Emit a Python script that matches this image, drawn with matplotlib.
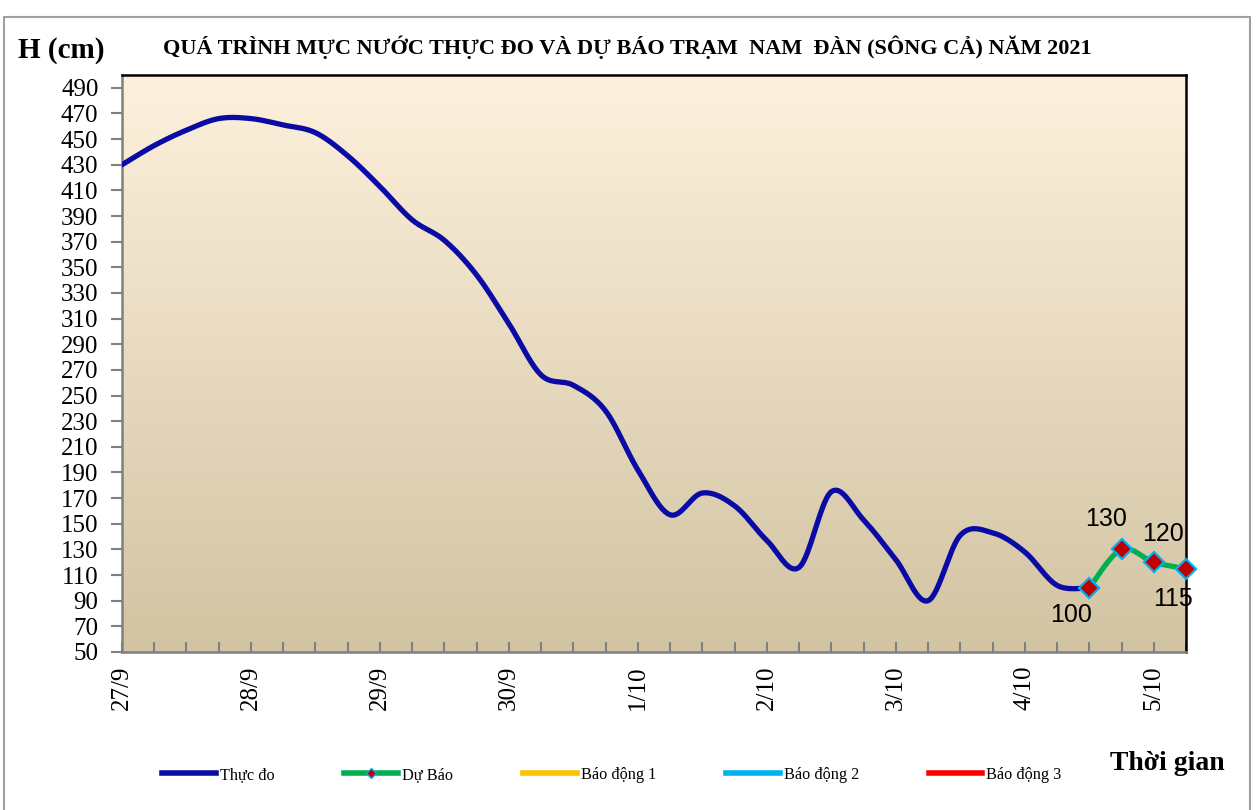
import numpy as np
import matplotlib
matplotlib.use('Agg')
import matplotlib.pyplot as plt
from matplotlib.lines import Line2D
from matplotlib.patches import Rectangle

# Du lieu (moi buoc 6 gio, bat dau 27/9 00h)
thuc_do = [430, 445, 457, 466, 466, 461, 455, 437, 413, 387, 371, 344,
           306, 266, 258, 238, 192, 157, 174, 164, 137, 116, 175, 153,
           122, 90, 141, 143, 128, 102, 100]
du_bao = [100, 130, 120, 115]
du_bao_start = 30
ngay_labels = ['27/9', '28/9', '29/9', '30/9', '1/10', '2/10', '3/10', '4/10', '5/10']
y_ticks = list(range(50, 491, 20))


def smooth(x, y, n=20):
    # courbe lissee type Excel (Catmull-Rom -> Bezier)
    x = np.asarray(x, float)
    y = np.asarray(y, float)
    px = np.concatenate([[x[0]], x, [x[-1]]])
    py = np.concatenate([[y[0]], y, [y[-1]]])
    xs, ys = [], []
    t = np.linspace(0, 1, n)
    for i in range(1, len(px) - 2):
        p0 = np.array([px[i], py[i]])
        p3 = np.array([px[i + 1], py[i + 1]])
        c1 = p0 + (np.array([px[i + 1], py[i + 1]]) - np.array([px[i - 1], py[i - 1]])) / 6
        c2 = p3 - (np.array([px[i + 2], py[i + 2]]) - np.array([px[i], py[i]])) / 6
        b = ((1 - t) ** 3)[:, None] * p0 + (3 * (1 - t) ** 2 * t)[:, None] * c1 \
            + (3 * (1 - t) * t ** 2)[:, None] * c2 + (t ** 3)[:, None] * p3
        xs.extend(b[:, 0])
        ys.extend(b[:, 1])
    return np.array(xs), np.array(ys)


serif = 'Liberation Serif'
sans = 'Liberation Sans'

fig = plt.figure(figsize=(12.56, 8.10), dpi=100)
ax = fig.add_axes([122 / 1256, 1 - 652 / 810, (1186 - 122) / 1256, (652 - 75) / 810])

# fond degrade
c_top = np.array([253, 241, 221]) / 255
c_bot = np.array([210, 195, 162]) / 255
g = np.linspace(0, 1, 256)[:, None]
grad = c_top * (1 - g[..., None]) + c_bot * g[..., None]
ax.imshow(grad, extent=[0, 1, 0, 1], transform=ax.transAxes, aspect='auto', zorder=0)

x_obs = np.arange(len(thuc_do))
sx, sy = smooth(x_obs, thuc_do)
ax.plot(sx, sy, color='#0A0AA5', lw=3.8, solid_capstyle='round', zorder=3)

x_fc = np.arange(du_bao_start, du_bao_start + len(du_bao))
fx, fy = smooth(x_fc, du_bao)
ax.plot(fx, fy, color='#00B050', lw=3.8, zorder=4)
ax.plot(x_fc, du_bao, ls='none', marker='D', ms=10, mfc='#C00000', mec='#00B0F0',
        mew=1.6, zorder=5, clip_on=False)

offsets = [(-18, -27), (-15, 30), (9, 28), (-13, -30)]
for xi, yi, off in zip(x_fc, du_bao, offsets):
    ax.annotate(str(yi), (xi, yi), xytext=(off[0] * 0.72, off[1] * 0.72),
                textcoords='offset points', ha='center', va='center',
                fontsize=18, family=sans, zorder=6, annotation_clip=False)

ax.set_xlim(0, 33)
ax.set_ylim(50, 500)
ax.set_yticks(y_ticks)
ax.set_yticklabels([str(v) for v in y_ticks], family=serif, fontsize=18)
ax.set_xticks(np.arange(0, 33, 4))
ax.set_xticklabels(ngay_labels, rotation=90, family=serif, fontsize=18)
ax.set_xticks(np.arange(0, 34, 1), minor=True)
ax.tick_params(axis='y', direction='out', length=8, width=1.5, color='#808080', pad=9)
ax.tick_params(axis='x', which='both', direction='in', length=7, width=1.5, color='#808080', pad=10)

for s in ['top', 'right']:
    ax.spines[s].set_color('black')
    ax.spines[s].set_linewidth(1.8)
for s in ['left', 'bottom']:
    ax.spines[s].set_color('#808080')
    ax.spines[s].set_linewidth(1.8)

fig.text(627 / 1256, 1 - 47 / 810,
         'QUÁ TRÌNH MỰC NƯỚC THỰC ĐO VÀ DỰ BÁO TRẠM  NAM  ĐÀN (SÔNG CẢ) NĂM 2021',
         ha='center', va='center', family=serif, fontsize=16, fontweight='bold')
fig.text(18 / 1256, 1 - 50 / 810, 'H (cm)', ha='left', va='center',
         family=serif, fontsize=21, fontweight='bold')
fig.text(1225 / 1256, 1 - 763 / 810, 'Thời gian', ha='right', va='center',
         family=serif, fontsize=20, fontweight='bold')

handles = [
    Line2D([], [], color='#0A0AA5', lw=4),
    Line2D([], [], color='#00B050', lw=4, marker='D', ms=5, mfc='#C00000', mec='#00B0F0'),
    Line2D([], [], color='#FFC000', lw=4),
    Line2D([], [], color='#00B0F0', lw=4),
    Line2D([], [], color='#FF0000', lw=4),
]
labels = ['Thực đo', 'Dự Báo', 'Báo động 1', 'Báo động 2', 'Báo động 3']
fig.legend(handles, labels, loc='center', bbox_to_anchor=(612 / 1256, 1 - 775 / 810),
           ncol=5, frameon=False, prop={'family': serif, 'size': 11.7},
           handlelength=3.3, handletextpad=0.25, columnspacing=4.3)

# cadre exterieur
fig.patches.append(Rectangle((4 / 1256, -0.01), (1250 - 4) / 1256, 1 - 17 / 810 + 0.01,
                             transform=fig.transFigure, fill=False,
                             edgecolor='#A0A0A0', lw=1.5))

fig.savefig('out.png', dpi=100)
